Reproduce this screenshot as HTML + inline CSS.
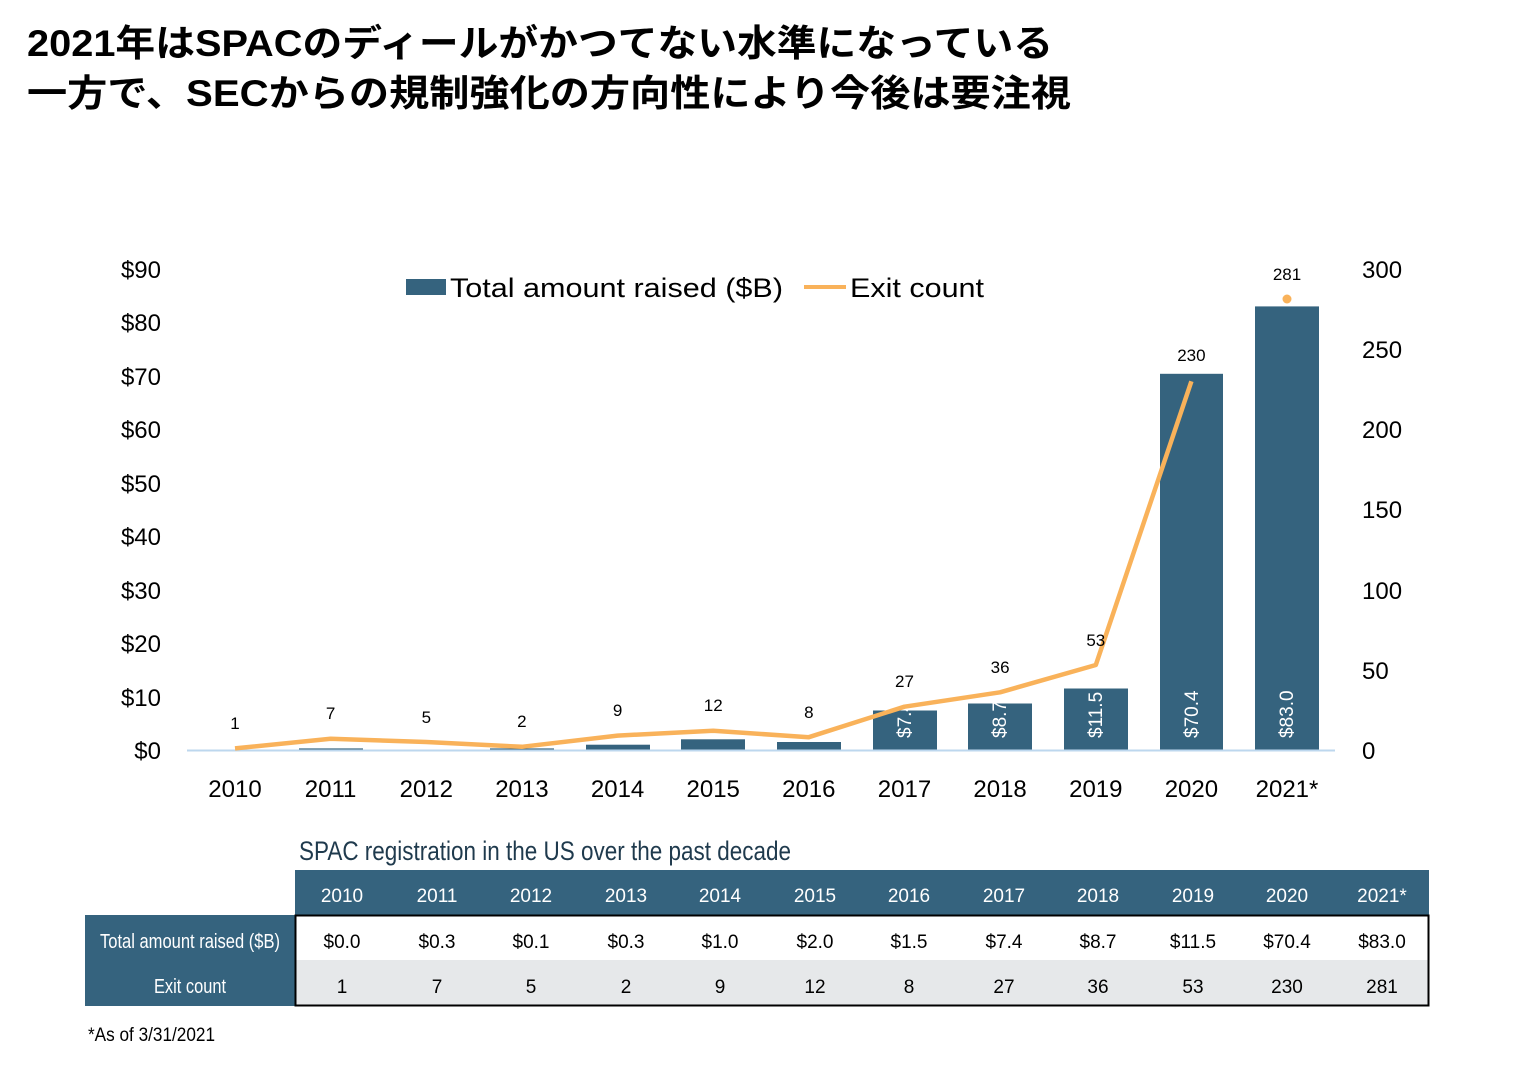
<!DOCTYPE html>
<html><head><meta charset="utf-8"><style>
html,body{margin:0;padding:0;background:#fff;}
svg{display:block;}
</style></head><body>
<svg width="1514" height="1065" viewBox="0 0 1514 1065" xmlns="http://www.w3.org/2000/svg" font-family="'Liberation Sans','Noto Sans CJK JP',sans-serif">
<text x="27" y="56" font-size="37" font-weight="bold" textLength="1026" lengthAdjust="spacingAndGlyphs">2021年はSPACのディールがかつてない水準になっている</text>
<text x="27" y="106" font-size="37" font-weight="bold" textLength="1044" lengthAdjust="spacingAndGlyphs">一方で、SECからの規制強化の方向性により今後は要注視</text>

<g font-size="24" fill="#000" text-anchor="end">
<text x="161" y="278">$90</text><text x="161" y="331">$80</text><text x="161" y="385">$70</text>
<text x="161" y="438">$60</text><text x="161" y="492">$50</text><text x="161" y="545">$40</text>
<text x="161" y="599">$30</text><text x="161" y="652">$20</text><text x="161" y="706">$10</text>
<text x="161" y="759">$0</text>
</g>
<g font-size="24" fill="#000">
<text x="1362" y="278">300</text><text x="1362" y="358">250</text><text x="1362" y="438">200</text>
<text x="1362" y="518">150</text><text x="1362" y="599">100</text><text x="1362" y="679">50</text>
<text x="1362" y="759">0</text>
</g>

<rect x="406" y="279" width="40" height="16" fill="#35637e"/>
<text x="450" y="297" font-size="27" textLength="333" lengthAdjust="spacingAndGlyphs">Total amount raised ($B)</text>
<line x1="804" y1="287" x2="846" y2="287" stroke="#f9b25a" stroke-width="4"/>
<text x="850" y="297" font-size="27" textLength="134" lengthAdjust="spacingAndGlyphs">Exit count</text>

<defs>
<clipPath id="c7"><rect x="873" y="710.5" width="64" height="40"/></clipPath>
<clipPath id="c8"><rect x="968" y="703.5" width="64" height="47"/></clipPath>
</defs>
<g fill="#35637e">
<rect x="299" y="748.4" width="64" height="1.6"/>
<rect x="394" y="749.5" width="64" height="0.5"/>
<rect x="490" y="748.4" width="64" height="1.6"/>
<rect x="586" y="744.7" width="64" height="5.3"/>
<rect x="681" y="739.3" width="64" height="10.7"/>
<rect x="777" y="742" width="64" height="8"/>
<rect x="873" y="710.5" width="64" height="39.5"/>
<rect x="968" y="703.5" width="64" height="46.5"/>
<rect x="1064" y="688.5" width="64" height="61.5"/>
<rect x="1160" y="373.8" width="63" height="376.2"/>
<rect x="1255" y="306.4" width="64" height="443.6"/>
</g>
<g fill="#fff" font-size="19">
<g clip-path="url(#c7)"><text transform="translate(911,738) rotate(-90)">$7.4</text></g>
<g clip-path="url(#c8)"><text transform="translate(1006,738) rotate(-90)">$8.7</text></g>
<text transform="translate(1102,738) rotate(-90)">$11.5</text>
<text transform="translate(1198,738) rotate(-90)">$70.4</text>
<text transform="translate(1293,738) rotate(-90)">$83.0</text>
</g>
<line x1="187" y1="750.5" x2="1335" y2="750.5" stroke="#bdd7ee" stroke-width="2"/>
<polyline fill="none" stroke="#f9b25a" stroke-width="4.5" stroke-linejoin="round"
 points="235,748.4 330.6,738.8 426.3,742 521.9,746.8 617.6,735.6 713.2,730.8 808.8,737.2 904.5,706.7 1000.1,692.3 1095.8,665 1191.4,381.3"/>
<circle cx="1287" cy="299" r="4.5" fill="#f9b25a"/>
<g font-size="17" text-anchor="middle">
<text x="235" y="729">1</text><text x="330.6" y="719">7</text><text x="426.3" y="723">5</text>
<text x="521.9" y="727">2</text><text x="617.6" y="716">9</text><text x="713.2" y="711">12</text>
<text x="808.8" y="718">8</text><text x="904.5" y="687">27</text><text x="1000.1" y="673">36</text>
<text x="1095.8" y="646">53</text><text x="1191.4" y="361">230</text><text x="1287" y="280">281</text>
</g>
<g font-size="24" text-anchor="middle">
<text x="235" y="797">2010</text><text x="330.6" y="797">2011</text><text x="426.3" y="797">2012</text>
<text x="521.9" y="797">2013</text><text x="617.6" y="797">2014</text><text x="713.2" y="797">2015</text>
<text x="808.8" y="797">2016</text><text x="904.5" y="797">2017</text><text x="1000.1" y="797">2018</text>
<text x="1095.8" y="797">2019</text><text x="1191.4" y="797">2020</text><text x="1287" y="797">2021*</text>
</g>

<text x="299" y="860" font-size="27" fill="#1f3a4d" textLength="492" lengthAdjust="spacingAndGlyphs">SPAC registration in the US over the past decade</text>
<rect x="295" y="870" width="1134" height="45" fill="#35637e"/>
<rect x="85" y="915" width="210" height="91" fill="#35637e"/>
<rect x="295" y="960" width="1134" height="45" fill="#e6e8ea"/>
<rect x="295.5" y="915.5" width="1133" height="90" fill="none" stroke="#000" stroke-width="2"/>
<text x="190" y="948" font-size="20" fill="#fff" text-anchor="middle" textLength="180" lengthAdjust="spacingAndGlyphs">Total amount raised ($B)</text>
<text x="190" y="993" font-size="20" fill="#fff" text-anchor="middle" textLength="72" lengthAdjust="spacingAndGlyphs">Exit count</text>
<g font-size="19" text-anchor="middle" fill="#fff">
<text x="342" y="902">2010</text><text x="437" y="902">2011</text><text x="531" y="902">2012</text>
<text x="626" y="902">2013</text><text x="720" y="902">2014</text><text x="815" y="902">2015</text>
<text x="909" y="902">2016</text><text x="1004" y="902">2017</text><text x="1098" y="902">2018</text>
<text x="1193" y="902">2019</text><text x="1287" y="902">2020</text><text x="1382" y="902">2021*</text>
</g>
<g font-size="19" text-anchor="middle" fill="#000">
<text x="342" y="948">$0.0</text><text x="437" y="948">$0.3</text><text x="531" y="948">$0.1</text>
<text x="626" y="948">$0.3</text><text x="720" y="948">$1.0</text><text x="815" y="948">$2.0</text>
<text x="909" y="948">$1.5</text><text x="1004" y="948">$7.4</text><text x="1098" y="948">$8.7</text>
<text x="1193" y="948">$11.5</text><text x="1287" y="948">$70.4</text><text x="1382" y="948">$83.0</text>
<text x="342" y="993">1</text><text x="437" y="993">7</text><text x="531" y="993">5</text>
<text x="626" y="993">2</text><text x="720" y="993">9</text><text x="815" y="993">12</text>
<text x="909" y="993">8</text><text x="1004" y="993">27</text><text x="1098" y="993">36</text>
<text x="1193" y="993">53</text><text x="1287" y="993">230</text><text x="1382" y="993">281</text>
</g>
<text x="88" y="1041" font-size="19" textLength="127" lengthAdjust="spacingAndGlyphs">*As of 3/31/2021</text>
</svg>
</body></html>
